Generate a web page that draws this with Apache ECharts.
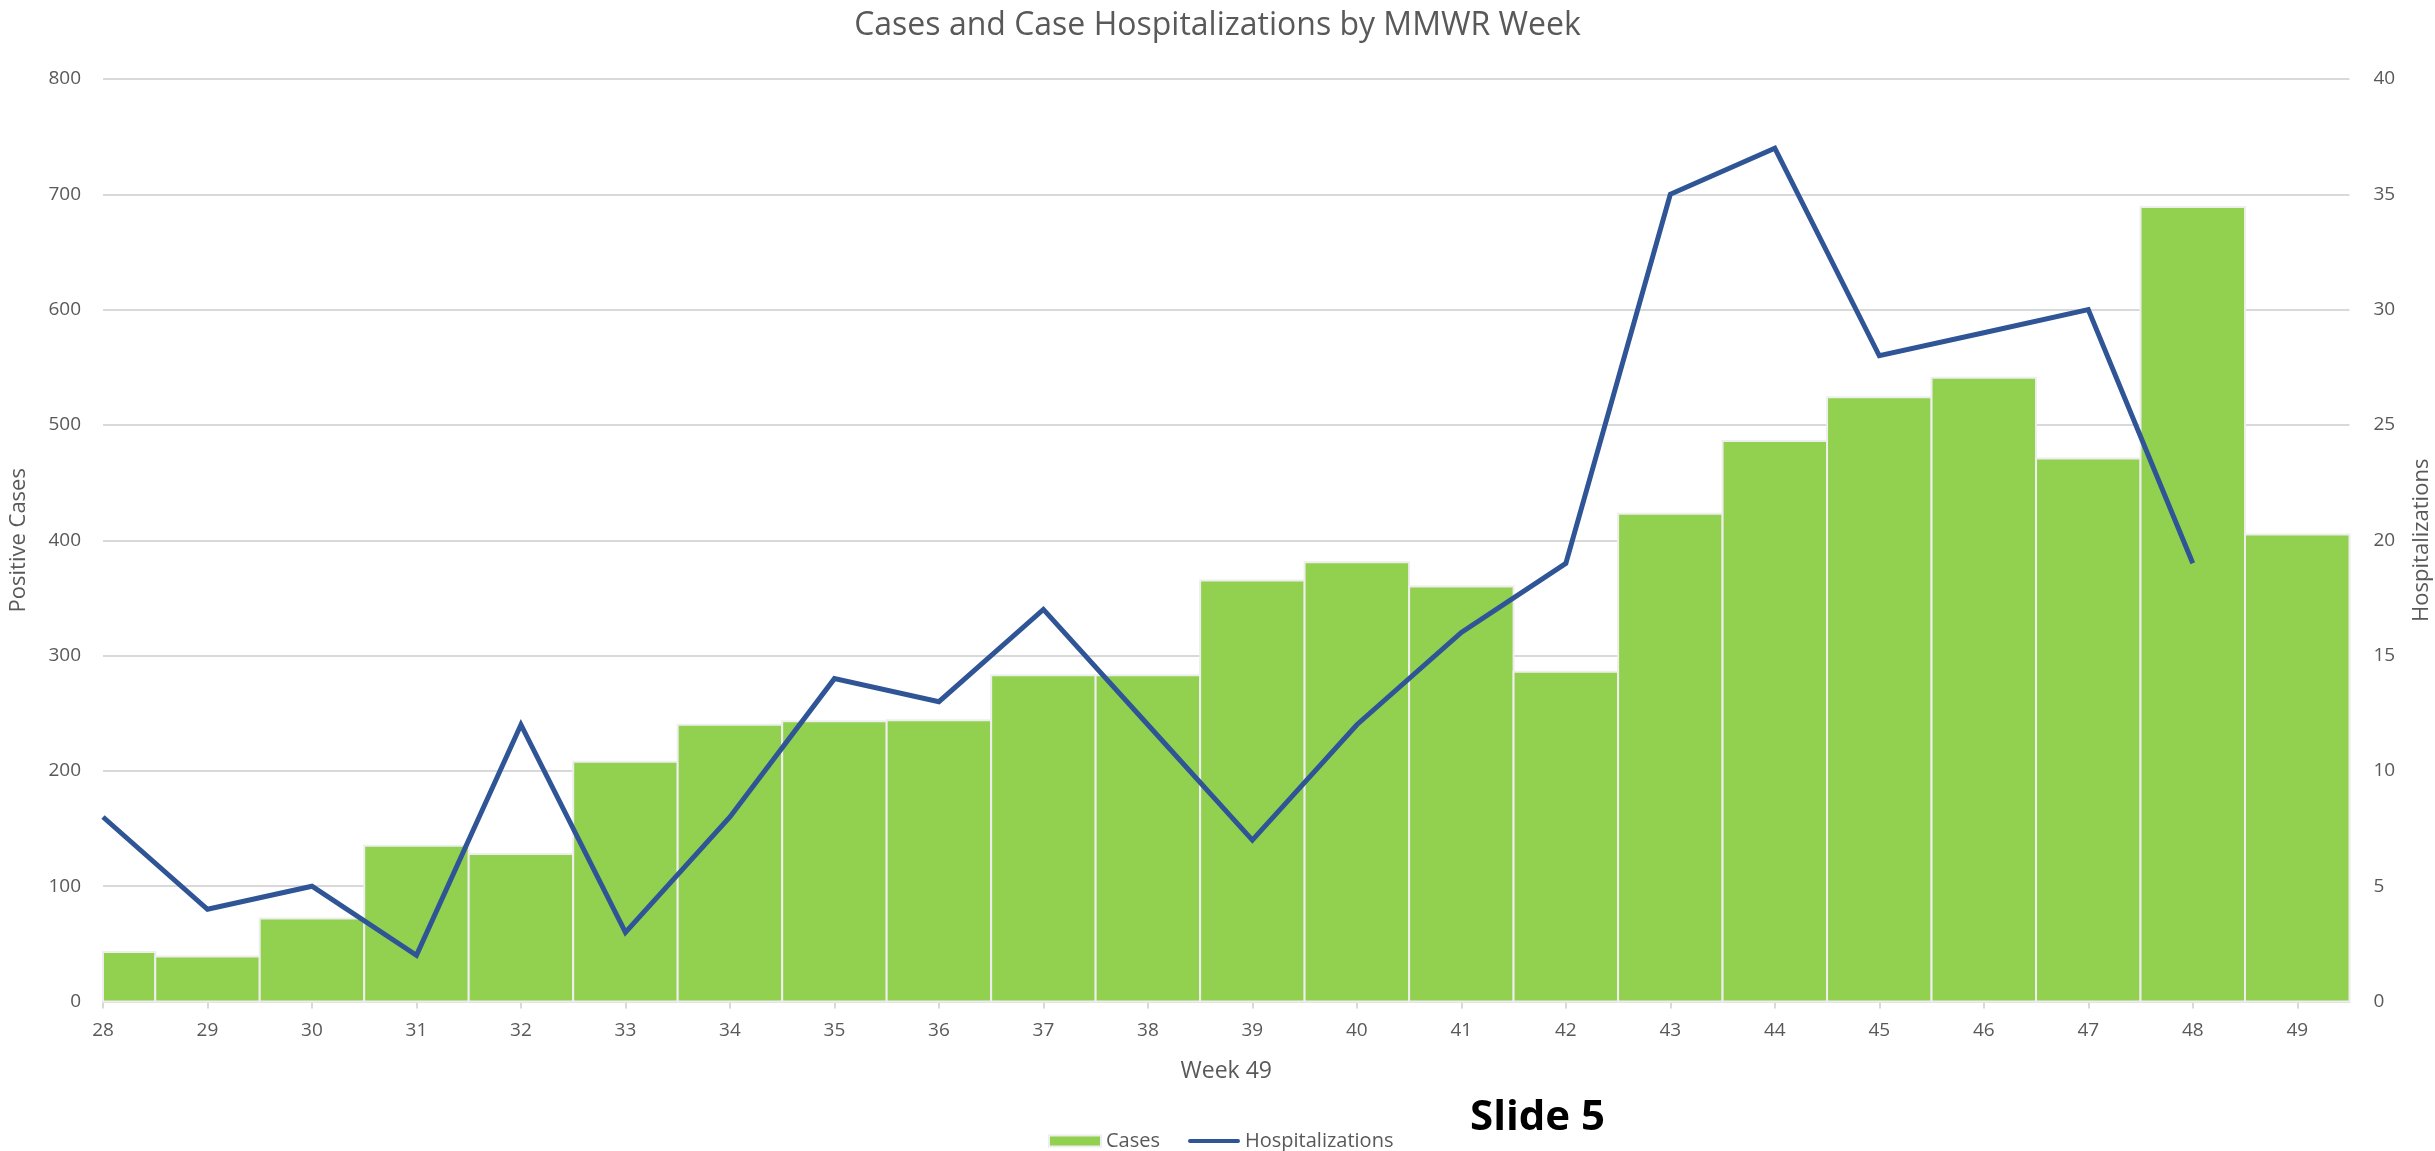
<!DOCTYPE html>
<html>
<head>
<meta charset="utf-8">
<title>Cases and Case Hospitalizations by MMWR Week</title>
<script src="https://cdn.jsdelivr.net/npm/echarts@6/dist/echarts.min.js"></script>
<style>
	html, body { margin: 0; padding: 0; background: #fff; }
	#chart { width: 2435px; height: 1151px; }
</style>
</head>
<body>
<div id="chart"></div>
<script>
	//MMWR周
	var weeks = [28, 29, 30, 31, 32, 33, 34, 35, 36, 37, 38, 39, 40, 41, 42, 43, 44, 45, 46, 47, 48, 49];
	//病例数（左轴）
	var cases = [43, 39, 72, 135, 128, 208, 240, 243, 244, 283, 283, 365, 381, 360, 286, 423, 486, 524, 541, 471, 689, 405];
	//住院数（右轴），第49周无数据
	var hosp = [8, 4, 5, 2, 12, 3, 8, 14, 13, 17, 12, 7, 12, 16, 19, 35, 37, 28, 29, 30, 19];

	var font = "'Open Sans', 'DejaVu Sans', sans-serif";
	var gray = '#595959';

	//拼成 [x, y] 数据
	var case_data = [];
	for(var i = 0; i < weeks.length; i++) {
		case_data.push([weeks[i], cases[i]]);
	}
	var hosp_data = [];
	for(var j = 0; j < hosp.length; j++) {
		hosp_data.push([weeks[j], hosp[j]]);
	}

	//柱子用custom画，这样第一根柱子能被网格裁掉一半
	function render_bar(params, api) {
		var x = api.value(0);
		var y = api.value(1);
		var top_left = api.coord([x - 0.5, y]);
		var bottom_right = api.coord([x + 0.5, 0]);
		var rect = echarts.graphic.clipRectByRect({
			x: top_left[0],
			y: top_left[1],
			width: bottom_right[0] - top_left[0],
			height: bottom_right[1] - top_left[1]
		}, {
			x: params.coordSys.x,
			y: params.coordSys.y,
			width: params.coordSys.width,
			height: params.coordSys.height
		});
		return rect && {
			type: 'rect',
			shape: rect,
			style: api.style()
		};
	}

	var myChart = echarts.init(document.getElementById('chart'));

	var option = {
		backgroundColor: '#fff',
		animation: false,
		textStyle: { fontFamily: font },
		title: {
			text: 'Cases and Case Hospitalizations by MMWR Week',
			left: 'center',
			top: 5,
			textStyle: { fontFamily: font, fontSize: 32, fontWeight: 'normal', color: gray }
		},
		legend: {
			left: 1043,
			top: 1126,
			itemWidth: 52,
			itemHeight: 11,
			itemGap: 28,
			textStyle: { fontFamily: font, fontSize: 20, color: gray },
			data: [
				{ name: 'Cases', icon: 'rect' },
				{ name: 'Hospitalizations', icon: 'path://M2,0 L50,0 A2,2 0 0 1 50,4 L2,4 A2,2 0 0 1 2,0 Z' }
			]
		},
		grid: {
			left: 103,
			right: 85.5,
			top: 79,
			bottom: 149.5,
			containLabel: false,
			outerBoundsMode: 'none'
		},
		xAxis: {
			type: 'value',
			min: 28,
			max: 49.5,
			interval: 1,
			name: 'Week 49',
			nameLocation: 'middle',
			nameGap: 58,
			nameTextStyle: { fontFamily: font, fontSize: 23, color: gray },
			axisLine: { show: true, lineStyle: { color: '#d9d9d9', width: 2 } },
			axisTick: { show: true, length: 7, customValues: weeks, lineStyle: { color: '#d9d9d9', width: 2 } },
			axisLabel: {
				customValues: weeks,
				margin: 20,
				fontFamily: font,
				fontSize: 19,
				color: gray,
				formatter: function(v) {
					return Number.isInteger(v) ? String(v) : '';
				}
			},
			splitLine: { show: false }
		},
		yAxis: [{
			type: 'value',
			min: 0,
			max: 800,
			interval: 100,
			name: 'Positive Cases',
			nameLocation: 'middle',
			nameRotate: 90,
			nameGap: 73,
			nameTextStyle: { fontFamily: font, fontSize: 22, color: gray },
			axisLine: { show: false },
			axisTick: { show: false },
			axisLabel: { margin: 22, fontFamily: font, fontSize: 19, color: gray },
			splitLine: { show: true, lineStyle: { color: '#d9d9d9', width: 2 } }
		}, {
			type: 'value',
			min: 0,
			max: 40,
			interval: 5,
			name: 'Hospitalizations',
			nameLocation: 'middle',
			nameRotate: 90,
			nameGap: 61,
			nameTextStyle: { fontFamily: font, fontSize: 22, color: gray },
			axisLine: { show: false },
			axisTick: { show: false },
			axisLabel: { margin: 24, fontFamily: font, fontSize: 19, color: gray },
			splitLine: { show: false }
		}],
		series: [{
			name: 'Cases',
			type: 'custom',
			yAxisIndex: 0,
			renderItem: render_bar,
			encode: { x: 0, y: 1 },
			itemStyle: { color: '#92d050', borderColor: '#eeeeee', borderWidth: 2 },
			data: case_data
		}, {
			name: 'Hospitalizations',
			type: 'line',
			yAxisIndex: 1,
			symbol: 'none',
			clip: true,
			z: 3,
			itemStyle: { color: '#2f5597' },
			lineStyle: { color: '#2f5597', width: 5, join: 'miter' },
			data: hosp_data
		}],
		graphic: [{
			type: 'text',
			left: 1470,
			top: 1097,
			style: {
				text: 'Slide 5',
				fontFamily: font,
				fontSize: 42,
				fontWeight: 'bold',
				fill: '#000'
			}
		}]
	};

	myChart.setOption(option);
</script>
</body>
</html>
